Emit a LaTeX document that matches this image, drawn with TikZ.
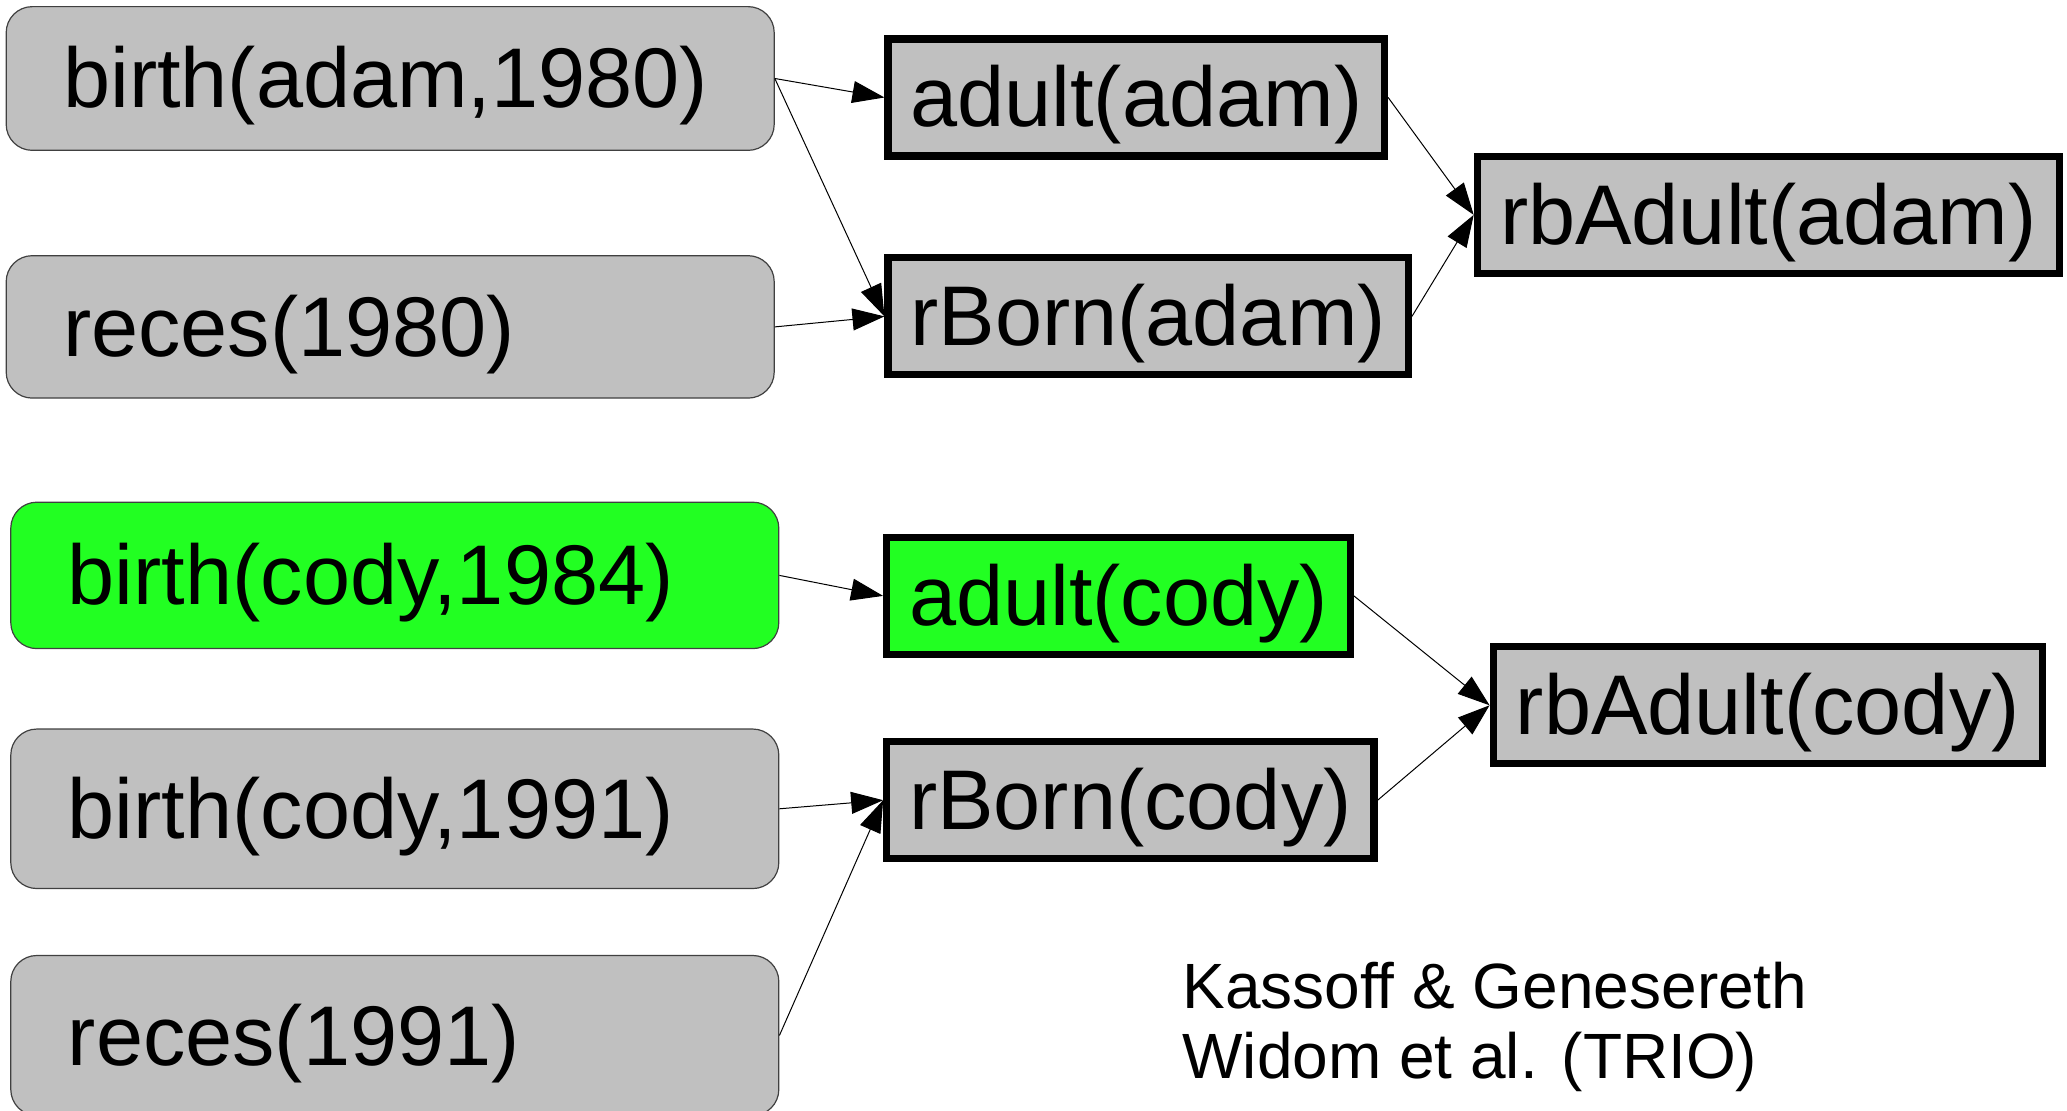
\documentclass[tikz,border=0pt]{standalone}
\usepackage{fontspec}
\setmainfont{Liberation Sans}
\usetikzlibrary{arrows.meta}
\definecolor{boxgray}{RGB}{192,192,192}
\definecolor{boxgreen}{RGB}{34,255,34}
\begin{document}
\begin{tikzpicture}[x=0.5pt,y=-0.5pt,
  lbox/.style={draw=black!75, line width=0.6pt, fill=boxgray, rounded corners=13pt,
    text width=327pt, inner xsep=28.5pt, inner ysep=0pt, align=left,
    text height=30pt, text depth=0.5pt,
    font=\fontsize{42.35}{50}\selectfont, minimum height=#1},
  mbox/.style={draw=black, line width=3.6pt, fill=boxgray, inner sep=0pt,
    text height=30pt, text depth=0.5pt,
    font=\fontsize{42.35}{50}\selectfont, minimum height=58.5pt},
  conn/.style={line width=0.5pt, -{Triangle[length=16pt,width=11pt]}},
  capt/.style={font=\fontsize{32}{35}\selectfont, align=left, inner sep=0pt}]
\useasboundingbox (0,0) rectangle (2067,1111);
% left boxes
\node[lbox=71.85pt] (b1) at (390.2,78.5) {birth(adam,1980)};
\node[lbox=71.2pt] (r1) at (390.2,326.9) {reces(1980)};
\node[lbox=73.2pt, fill=boxgreen] (b2) at (394.8,575.4) {birth(cody,1984)};
\node[lbox=79.75pt] (b3) at (394.8,808.8) {birth(cody,1991)};
\node[lbox=80pt] (r2) at (394.8,1035.5) {reces(1991)};
% middle boxes
\node[mbox, minimum width=248.25pt] (a1) at (1136.3,97.5) {adult(adam)};
\node[mbox, minimum width=260.15pt] (rb1) at (1148.2,316.4) {rBorn(adam)};
\node[mbox, minimum width=231.8pt, fill=boxgreen] (a2) at (1118.5,595.9) {adult(cody)};
\node[mbox, minimum width=243.65pt] (rb2) at (1130.4,800.2) {rBorn(cody)};
% right boxes
\node[mbox, minimum width=291.1pt] (ra1) at (1768.4,214.9) {rbAdult(adam)};
\node[mbox, minimum width=274.65pt] (ra2) at (1767.8,705.3) {rbAdult(cody)};
% connectors
\draw[conn] (b1.east) -- (a1.west);
\draw[conn] (b1.east) -- (rb1.west);
\draw[conn] (r1.east) -- (rb1.west);
\draw[conn] (a1.east) -- (ra1.west);
\draw[conn] (rb1.east) -- (ra1.west);
\draw[conn] (b2.east) -- (a2.west);
\draw[conn] (b3.east) -- (rb2.west);
\draw[conn] (r2.east) -- (rb2.west);
\draw[conn] (a2.east) -- (ra2.west);
\draw[conn] (rb2.east) -- (ra2.west);
% caption
\node[capt, anchor=base west] (cap) at (1182,1078) {Kassoff \& Genesereth\\Widom et al. (TRIO)};
\end{tikzpicture}
\end{document}
